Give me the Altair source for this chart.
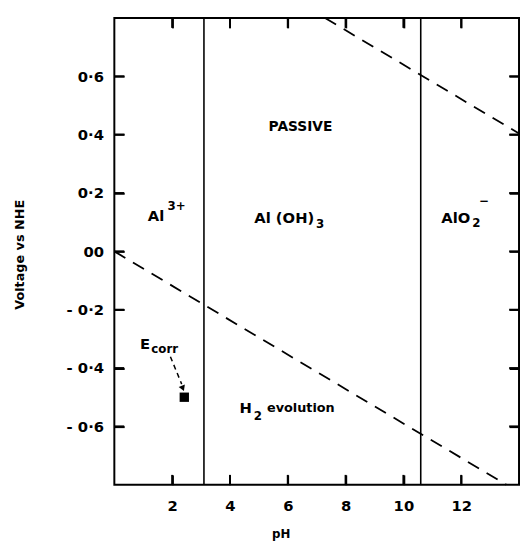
import altair as alt
import pandas as pd

# ---- data ----
x_domain = [0, 14]
y_domain = [-0.8, 0.8]

ph_ticks = [2, 4, 6, 8, 10, 12]
ph_labels = ["2", "4", "6", "8", "10", "12"]
v_ticks = [0.6, 0.4, 0.2, 0.0, -0.2, -0.4, -0.6]
v_labels = ["0·6", "0·4", "0·2", "00", "- 0·2", "- 0·4", "- 0·6"]

boundary_ph = [3.1, 10.6]          # Al3+/Al(OH)3 and Al(OH)3/AlO2- boundaries

h2_ph = [0.0, 13.56]               # hydrogen line
h2_v = [0.0, -0.80]
o2_ph = [7.29, 14.0]               # oxygen line
o2_v = [0.80, 0.404]

ecorr_ph = [2.42]
ecorr_v = [-0.50]
arrow_ph = [1.94, 2.33]
arrow_v = [-0.361, -0.455]
arrowhead_ph = [2.37]
arrowhead_v = [-0.47]

# label texts and anchors (pH, V)
center_texts = ["PASSIVE"]
center_ph = [6.44]
center_v = [0.425]

main_texts = ["Al", "Al (OH)", "AlO", "E", "H"]
main_ph = [1.16, 4.84, 11.31, 0.89, 4.33]
main_v = [0.12, 0.115, 0.115, -0.317, -0.537]

small_texts = ["3+", "3", "2", "−", "corr", "2"]
small_ph = [1.84, 6.98, 12.38, 12.62, 1.28, 4.82]
small_v = [0.155, 0.095, 0.098, 0.172, -0.336, -0.566]

evo_texts = ["evolution"]
evo_ph = [5.28]
evo_v = [-0.537]

# ---- helpers ----
def label_expr(vals, labs):
    parts = "".join(f"abs(datum.value - ({v})) < 1e-6 ? '{l}' : " for v, l in zip(vals, labs))
    return parts + "''"

FONT = "DejaVu Sans"
W, H = 411, 474
TL = 10  # inward tick length
xs = alt.Scale(domain=x_domain, nice=False, zero=False)
ys = alt.Scale(domain=y_domain, nice=False, zero=False)

tick_style = dict(ticks=True, tickSize=TL, tickWidth=2, tickColor="black",
                  domain=False, grid=False, offset=-TL)

x_bottom = alt.Axis(orient="bottom", values=ph_ticks, labelExpr=label_expr(ph_ticks, ph_labels),
                    labelPadding=14, labelFontSize=15, labelFont=FONT, labelFontWeight="bold",
                    labelColor="black", title="pH", titleFont=FONT, titleFontSize=12,
                    titleFontWeight="bold", titleColor="black", titleX=169, titleY=60,
                    titleAlign="center", titleBaseline="middle", **tick_style)
y_left = alt.Axis(orient="left", values=v_ticks, labelExpr=label_expr(v_ticks, v_labels),
                  labelPadding=11, labelFontSize=15, labelFont=FONT, labelFontWeight="bold",
                  labelColor="black", title="Voltage   vs  NHE", titleFont=FONT,
                  titleFontSize=13, titleFontWeight="bold", titleColor="black",
                  titleX=-106, titleY=240, titleAngle=270, titleAlign="center",
                  titleBaseline="middle", **tick_style)
x_top = alt.Axis(orient="top", values=ph_ticks, labels=False, title="", **tick_style)
y_right = alt.Axis(orient="right", values=v_ticks, labels=False, title="", **tick_style)


def X():
    return alt.X("ph:Q", scale=xs, axis=None)


def Y():
    return alt.Y("v:Q", scale=ys, axis=None)


# boundaries
bdf = pd.DataFrame({"ph": boundary_ph})
boundaries = alt.Chart(bdf).mark_rule(color="black", strokeWidth=1.6).encode(x=X())

dash = [13, 9]
h2 = alt.Chart(pd.DataFrame({"ph": h2_ph, "v": h2_v})).mark_line(
    color="black", strokeWidth=1.8, strokeDash=dash).encode(
    x=alt.X("ph:Q", scale=xs, axis=x_bottom), y=alt.Y("v:Q", scale=ys, axis=y_left))
o2 = alt.Chart(pd.DataFrame({"ph": o2_ph, "v": o2_v})).mark_line(
    color="black", strokeWidth=1.8, strokeDash=dash).encode(
    x=alt.X("ph:Q", scale=xs, axis=x_top), y=alt.Y("v:Q", scale=ys, axis=y_right))

# inward tick rules drawn as marks as well (all four sides)
xt = pd.DataFrame({"ph": ph_ticks})
yt = pd.DataFrame({"v": v_ticks})
bottom_ticks = alt.Chart(xt).mark_rule(color="black", strokeWidth=2).encode(
    x=X(), y=alt.value(H - TL), y2=alt.value(H))
top_ticks = alt.Chart(xt).mark_rule(color="black", strokeWidth=2).encode(
    x=X(), y=alt.value(0), y2=alt.value(TL))
left_ticks = alt.Chart(yt).mark_rule(color="black", strokeWidth=2).encode(
    y=Y(), x=alt.value(0), x2=alt.value(TL))
right_ticks = alt.Chart(yt).mark_rule(color="black", strokeWidth=2).encode(
    y=Y(), x=alt.value(W - TL), x2=alt.value(W))

arrow = alt.Chart(pd.DataFrame({"ph": arrow_ph, "v": arrow_v})).mark_line(
    color="black", strokeWidth=1.5, strokeDash=[5, 4]).encode(x=X(), y=Y())
arrowhead = alt.Chart(pd.DataFrame({"ph": arrowhead_ph, "v": arrowhead_v})).mark_point(
    shape="triangle-down", filled=True, color="black", size=45, angle=338, opacity=1).encode(
    x=X(), y=Y())
marker = alt.Chart(pd.DataFrame({"ph": ecorr_ph, "v": ecorr_v})).mark_point(
    shape="square", filled=True, color="black", size=90, opacity=1).encode(x=X(), y=Y())

center_lbl = alt.Chart(pd.DataFrame({"ph": center_ph, "v": center_v, "t": center_texts})).mark_text(
    font=FONT, fontSize=14, fontWeight="bold", align="center", baseline="middle", color="black").encode(
    x=X(), y=Y(), text="t:N")
main_lbl = alt.Chart(pd.DataFrame({"ph": main_ph, "v": main_v, "t": main_texts})).mark_text(
    font=FONT, fontSize=15, fontWeight="bold", align="left", baseline="middle", color="black").encode(
    x=X(), y=Y(), text="t:N")
small_lbl = alt.Chart(pd.DataFrame({"ph": small_ph, "v": small_v, "t": small_texts})).mark_text(
    font=FONT, fontSize=12, fontWeight="bold", align="left", baseline="middle", color="black").encode(
    x=X(), y=Y(), text="t:N")
evo_lbl = alt.Chart(pd.DataFrame({"ph": evo_ph, "v": evo_v, "t": evo_texts})).mark_text(
    font=FONT, fontSize=13, fontWeight="bold", align="left", baseline="middle", color="black").encode(
    x=X(), y=Y(), text="t:N")

chart = alt.layer(
    h2, o2, boundaries, arrow, arrowhead, marker, center_lbl, main_lbl, small_lbl, evo_lbl,
    bottom_ticks, top_ticks, left_ticks, right_ticks,
).resolve_axis(x="independent", y="independent").properties(
    width=W, height=H,
    autosize=alt.AutoSizeParams(type="none"),
    padding={"left": 108, "top": 6, "right": 1, "bottom": 55},
    background="white",
).configure_view(stroke="black", strokeWidth=2)

chart.save("out.html", embed_options={"renderer": "svg", "actions": False})
